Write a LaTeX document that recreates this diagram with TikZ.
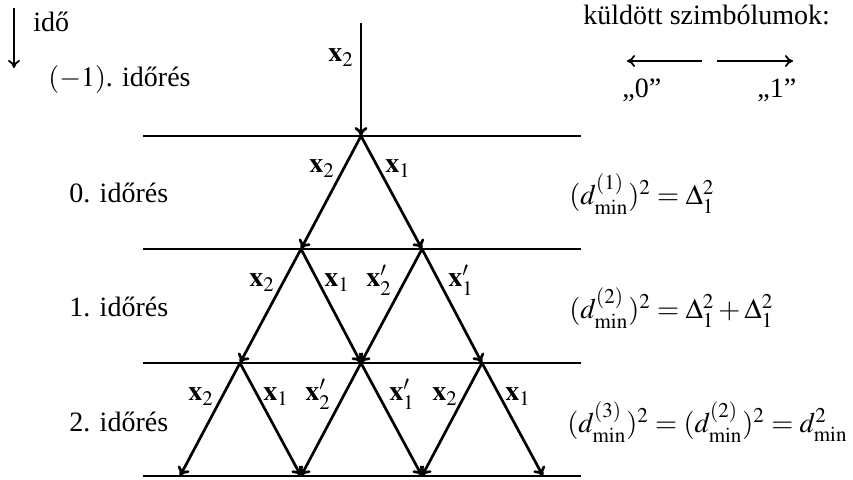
\documentclass[tikz,border=0pt]{standalone}
\usepackage{mathptmx}
\usepackage[no-math]{fontspec}
\setmainfont{Liberation Serif}
\usetikzlibrary{arrows.meta}
\begin{document}
\begin{tikzpicture}[x=0.5pt,y=-0.5pt,
  font=\fontsize{14}{17}\selectfont,
  trel/.style={-{To[length=4.5pt,width=6.5pt]},line width=1.35pt},
  thinarr/.style={-{To[length=4pt,width=6pt]},line width=0.9pt},
  sep/.style={line width=0.6pt},
  lbl/.style={anchor=base,inner sep=0pt},
  txt/.style={anchor=base west,inner sep=0pt}]
\useasboundingbox (0,0) rectangle (853,480);
% separator lines
\foreach \yy in {136,249,363,476}
  \draw[sep] (143,\yy) -- (581,\yy);
% trellis points
\coordinate (top) at (361,23);
\coordinate (a0) at (361,136);
\coordinate (b0) at (301,249); \coordinate (b1) at (422,249);
\coordinate (c0) at (240,363); \coordinate (c1) at (361,363); \coordinate (c2) at (482,363);
\coordinate (d0) at (180,476); \coordinate (d1) at (301,476); \coordinate (d2) at (422,476); \coordinate (d3) at (543,476);
% arrows
\draw[trel] (top) -- (a0);
\draw[trel] (a0) -- (b0); \draw[trel] (a0) -- (b1);
\draw[trel] (b0) -- (c0); \draw[trel] (b0) -- (c1);
\draw[trel] (b1) -- (c1); \draw[trel] (b1) -- (c2);
\draw[trel] (c0) -- (d0); \draw[trel] (c0) -- (d1);
\draw[trel] (c1) -- (d1); \draw[trel] (c1) -- (d2);
\draw[trel] (c2) -- (d2); \draw[trel] (c2) -- (d3);
% branch labels
\node[lbl] (lt) at (341,62) {$\mathbf{x}_2$};
\node[lbl] (l00) at (322,173) {$\mathbf{x}_2$};
\node[lbl] (l01) at (398,173) {$\mathbf{x}_1$};
\node[lbl] (l10) at (262,287) {$\mathbf{x}_2$};
\node[lbl] (l11) at (337,287) {$\mathbf{x}_1$};
\node[lbl] (l12) at (379,287) {$\mathbf{x}_2'$};
\node[lbl] (l13) at (461,287) {$\mathbf{x}_1'$};
\node[lbl] (l20) at (201,401) {$\mathbf{x}_2$};
\node[lbl] (l21) at (276,401) {$\mathbf{x}_1$};
\node[lbl] (l22) at (318,401) {$\mathbf{x}_2'$};
\node[lbl] (l23) at (402,401) {$\mathbf{x}_1'$};
\node[lbl] (l24) at (445,401) {$\mathbf{x}_2$};
\node[lbl] (l25) at (518,401) {$\mathbf{x}_1$};
% time arrow
\coordinate (t0) at (14,8);
\coordinate (t1) at (14,68);
\draw[thinarr] (t0) -- (t1);
\node[txt] (ido) at (33,32) {idő};
\node[txt] (s-1) at (48,87) {$(-1)$. időrés};
\node[txt] (s0) at (69,203) {0. időrés};
\node[txt] (s1) at (69,317) {1. időrés};
\node[txt] (s2) at (69,432) {2. időrés};
% legend
\node[txt] (leg) at (583,25) {küldött szimbólumok:};
\coordinate (la) at (702,61); \coordinate (lb) at (627,61);
\coordinate (ra) at (717,61); \coordinate (rb) at (793,61);
\draw[thinarr] (la) -- (lb);
\draw[thinarr] (ra) -- (rb);
\node[txt] (q0) at (622,98) {„0”};
\node[txt] (q1) at (757,98) {„1”};
% formulas
\begin{scope}[font=\fontsize{14.2}{17}\selectfont]
\node[txt] (f1) at (569,205) {$(d_{\mathrm{min}}^{(1)})^2=\Delta_1^2$};
\node[txt] (f2) at (569,319) {$(d_{\mathrm{min}}^{(2)})^2=\Delta_1^2+\Delta_1^2$};
\node[txt] (f3) at (567,433) {$(d_{\mathrm{min}}^{(3)})^2=(d_{\mathrm{min}}^{(2)})^2=d_{\mathrm{min}}^2$};
\end{scope}
\end{tikzpicture}
\end{document}
